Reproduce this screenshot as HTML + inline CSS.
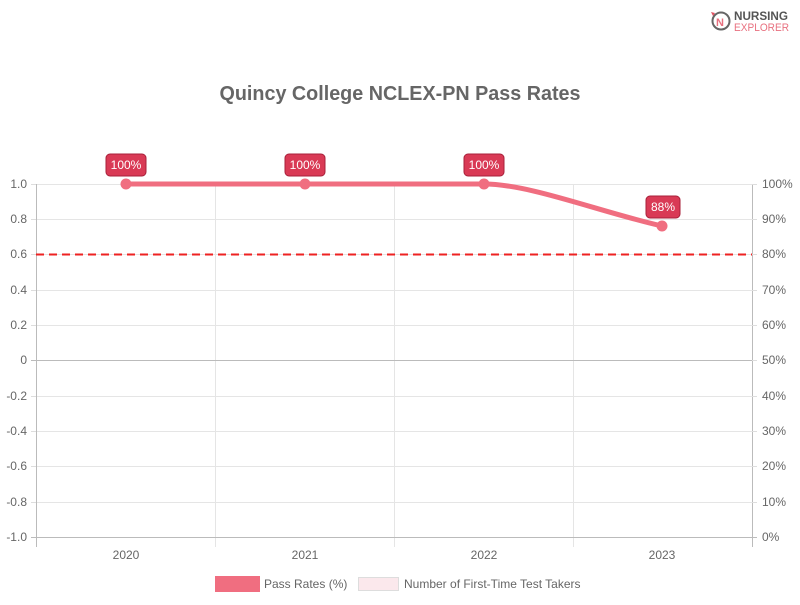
<!DOCTYPE html>
<html><head><style>
body{margin:0;background:#fff;width:800px;height:600px;overflow:hidden;font-family:"Liberation Sans",sans-serif}
</style></head><body>
<svg width="800" height="600" xmlns="http://www.w3.org/2000/svg" font-family="Liberation Sans, sans-serif">
<rect width="800" height="600" fill="#fff"/>
<!-- logo -->
<circle cx="721" cy="21" r="8.5" fill="none" stroke="#666" stroke-width="2"/>
<text x="716" y="26" font-size="11" font-weight="bold" fill="#e8707f">N</text>
<path d="M711 12 l4 1 l-2 3z" fill="#e05060"/>
<text x="734" y="20" font-size="12" font-weight="bold" fill="#555" textLength="54" lengthAdjust="spacingAndGlyphs">NURSING</text>
<text x="734" y="31" font-size="11" fill="#e8707f" textLength="55" lengthAdjust="spacingAndGlyphs">EXPLORER</text>
<text x="400" y="100" text-anchor="middle" font-size="20" font-weight="bold" fill="#666" textLength="361" lengthAdjust="spacingAndGlyphs">Quincy College NCLEX-PN Pass Rates</text>
<g stroke="#e5e5e5" stroke-width="1">
<line x1="36" y1="184.5" x2="752" y2="184.5"/><line x1="36" y1="219.5" x2="752" y2="219.5"/>
<line x1="36" y1="254.5" x2="752" y2="254.5"/><line x1="36" y1="290.5" x2="752" y2="290.5"/>
<line x1="36" y1="325.5" x2="752" y2="325.5"/>
<line x1="36" y1="396.5" x2="752" y2="396.5"/><line x1="36" y1="431.5" x2="752" y2="431.5"/>
<line x1="36" y1="466.5" x2="752" y2="466.5"/><line x1="36" y1="502.5" x2="752" y2="502.5"/>
<line x1="215.5" y1="184" x2="215.5" y2="547"/><line x1="394.5" y1="184" x2="394.5" y2="547"/>
<line x1="573.5" y1="184" x2="573.5" y2="547"/>
</g>
<g stroke="#bbb" stroke-width="1">
<line x1="31" y1="360.5" x2="752" y2="360.5"/>
<line x1="31" y1="537.5" x2="757" y2="537.5"/>
<line x1="36.5" y1="184" x2="36.5" y2="547"/><line x1="752.5" y1="184" x2="752.5" y2="547"/>
</g>
<g stroke="#ddd"><line x1="31" y1="184.5" x2="36" y2="184.5"/><line x1="31" y1="219.5" x2="36" y2="219.5"/><line x1="31" y1="254.5" x2="36" y2="254.5"/><line x1="31" y1="290.5" x2="36" y2="290.5"/><line x1="31" y1="325.5" x2="36" y2="325.5"/><line x1="31" y1="396.5" x2="36" y2="396.5"/><line x1="31" y1="431.5" x2="36" y2="431.5"/><line x1="31" y1="466.5" x2="36" y2="466.5"/><line x1="31" y1="502.5" x2="36" y2="502.5"/>
<line x1="752" y1="184.5" x2="757" y2="184.5"/><line x1="752" y1="219.5" x2="757" y2="219.5"/><line x1="752" y1="254.5" x2="757" y2="254.5"/><line x1="752" y1="290.5" x2="757" y2="290.5"/><line x1="752" y1="325.5" x2="757" y2="325.5"/><line x1="752" y1="360.5" x2="757" y2="360.5"/><line x1="752" y1="396.5" x2="757" y2="396.5"/><line x1="752" y1="431.5" x2="757" y2="431.5"/><line x1="752" y1="466.5" x2="757" y2="466.5"/><line x1="752" y1="502.5" x2="757" y2="502.5"/></g>
<g font-size="12" fill="#666" text-anchor="end">
<text x="27" y="188">1.0</text><text x="27" y="223">0.8</text><text x="27" y="258">0.6</text><text x="27" y="294">0.4</text><text x="27" y="329">0.2</text><text x="27" y="364">0</text><text x="27" y="400">-0.2</text><text x="27" y="435">-0.4</text><text x="27" y="470">-0.6</text><text x="27" y="506">-0.8</text><text x="27" y="541">-1.0</text>
</g>
<g font-size="12" fill="#666">
<text x="762" y="188">100%</text><text x="762" y="223">90%</text><text x="762" y="258">80%</text><text x="762" y="294">70%</text><text x="762" y="329">60%</text><text x="762" y="364">50%</text><text x="762" y="400">40%</text><text x="762" y="435">30%</text><text x="762" y="470">20%</text><text x="762" y="506">10%</text><text x="762" y="541">0%</text>
</g>
<g font-size="12" fill="#666" text-anchor="middle">
<text x="126" y="559">2020</text><text x="305" y="559">2021</text><text x="484" y="559">2022</text><text x="662" y="559">2023</text>
</g>
<line x1="36" y1="254.5" x2="752" y2="254.5" stroke="#ee2222" stroke-width="2" stroke-dasharray="8,5"/>
<path d="M126 184 L484 184 C530 184 600 212 662 226" fill="none" stroke="#f06e80" stroke-width="5"/>
<g fill="#f06e80"><circle cx="126" cy="184" r="5.5"/><circle cx="305" cy="184" r="5.5"/><circle cx="484" cy="184" r="5.5"/><circle cx="662" cy="226" r="5.5"/></g>
<g fill="#d93a55" stroke="#a8203a" stroke-width="1">
<rect x="106" y="154" width="40" height="22" rx="4"/><rect x="285" y="154" width="40" height="22" rx="4"/><rect x="464" y="154" width="40" height="22" rx="4"/><rect x="646" y="196" width="34" height="22" rx="4"/>
</g>
<g font-size="12" fill="#fff" text-anchor="middle">
<text x="126" y="169">100%</text><text x="305" y="169">100%</text><text x="484" y="169">100%</text><text x="663" y="211">88%</text>
</g>
<rect x="215" y="576" width="45" height="16" fill="#f06e80"/>
<text x="264" y="588" font-size="12" fill="#666">Pass Rates (%)</text>
<rect x="358.5" y="577.5" width="40" height="13" fill="#fbe8ec" stroke="#ddd"/>
<text x="404" y="588" font-size="12" fill="#666">Number of First-Time Test Takers</text>
</svg>
</body></html>
